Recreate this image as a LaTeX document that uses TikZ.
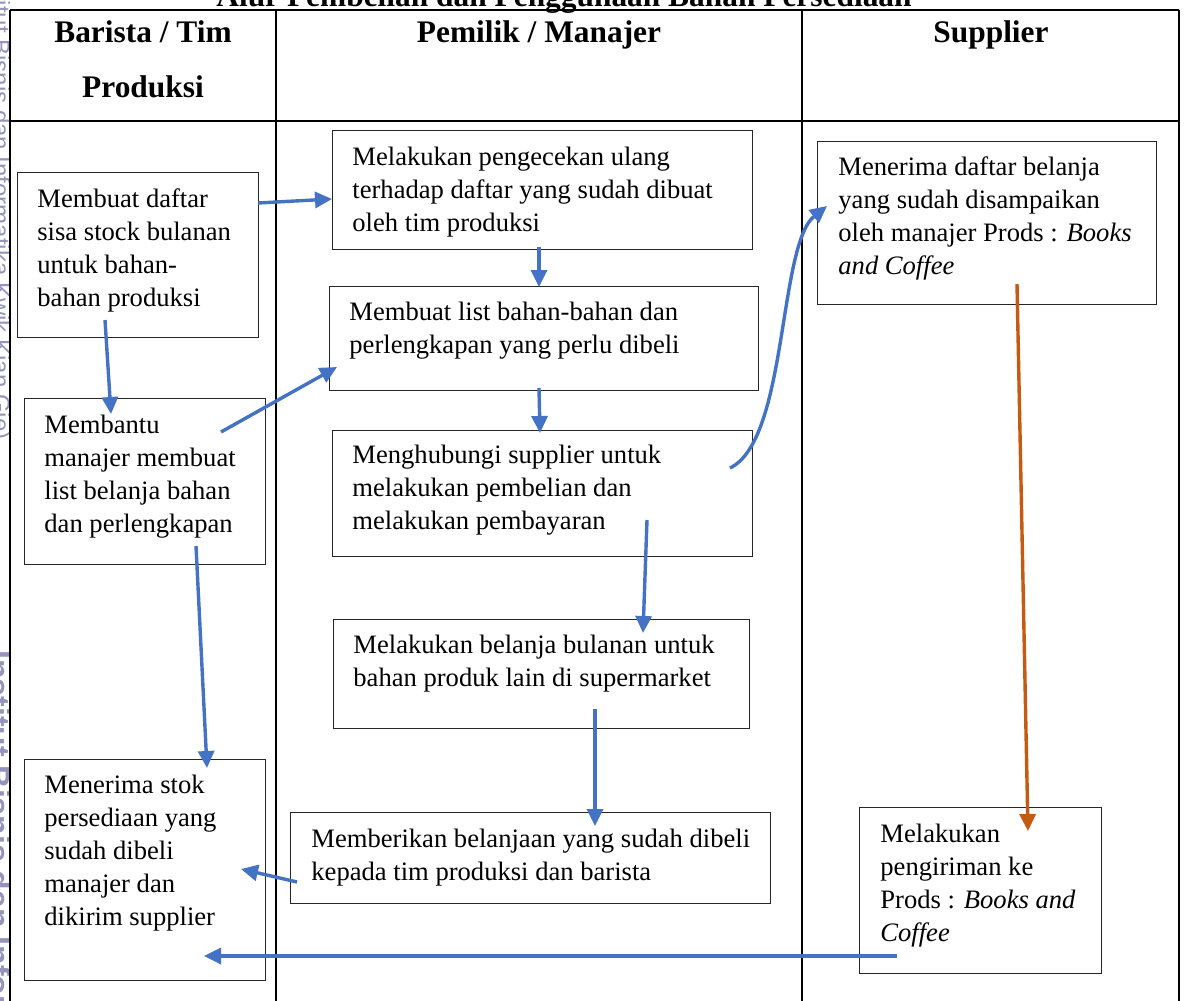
\documentclass[tikz,border=0pt]{standalone}
\usepackage{fontspec}
\setmainfont{Liberation Serif}
\newfontfamily\wmfont{Liberation Sans}
\usetikzlibrary{arrows.meta,calc}
\definecolor{arrowblue}{HTML}{4472C4}
\definecolor{arroworange}{HTML}{C55A11}
\definecolor{wmcol}{HTML}{9494BC}
\newcommand{\bodyfont}{\fontsize{13.3}{16.5}\selectfont}
\newcommand{\hdrfont}{\fontsize{15.7}{18}\selectfont\bfseries}
\newcommand{\boxlines}[1]{\parbox[t]{300pt}{\bodyfont\raggedright #1}}
\begin{document}
\begin{tikzpicture}[x=0.5pt,y=-0.5pt,
  tabline/.style={line width=1.25pt,black},
  procbox/.style={draw=black!85,line width=0.6pt,inner sep=0,anchor=north west},
  boxtxt/.style={anchor=base west,inner sep=0},
  hdr/.style={anchor=base,inner sep=0,font=\hdrfont},
  arr/.style={draw=arrowblue,line width=1.7pt,-{Triangle[length=8.5pt,width=8pt]}},
  arro/.style={draw=arroworange,line width=1.7pt,-{Triangle[length=8.5pt,width=8pt]}},
  wm/.style={inner sep=0,rotate=-90,text=wmcol}]
\useasboundingbox (0,0) rectangle (1184,1001);
% watermark
\node[wm,anchor=base east,font=\wmfont\fontsize{12}{14}\selectfont] (wm1) at (-7,440) {Hak cipta milik IBI KKG (Institut Bisnis dan Informatika Kwik Kian Gie)};
\node[wm,anchor=base west,font=\wmfont\fontsize{16}{18}\selectfont\bfseries] (wm2) at (-12,650) {Institut Bisnis dan Informatika Kwik Kian Gie};
% title
\node[hdr] (title) at (564,6) {Alur Pembelian dan Penggunaan Bahan Persediaan};
% table
\draw[tabline] (10,10) -- (1179,10);
\draw[tabline] (10,121) -- (1179,121);
\draw[tabline] (10,10) -- (10,1010);
\draw[tabline] (276,10) -- (276,1010);
\draw[tabline] (802,10) -- (802,1010);
\draw[tabline] (1179,10) -- (1179,1010);
\node[hdr] (h1a) at (143,42) {Barista / Tim};
\node[hdr] (h1b) at (143,97) {Produksi};
\node[hdr] (h2) at (539,42) {Pemilik / Manajer};
\node[hdr] (h3) at (991,42) {Supplier};
% boxes
\node[procbox,minimum width=120.5pt,minimum height=82.5pt] (B1) at (17,172) {};
\node[procbox,minimum width=120.5pt,minimum height=83pt] (B2) at (24,398) {};
\node[procbox,minimum width=120.5pt,minimum height=110.5pt] (B3) at (24,759) {};
\node[procbox,minimum width=210pt,minimum height=59.5pt] (M1) at (332,130) {};
\node[procbox,minimum width=214.5pt,minimum height=52pt] (M2) at (329,286) {};
\node[procbox,minimum width=210pt,minimum height=63pt] (M3) at (332,430) {};
\node[procbox,minimum width=208pt,minimum height=54.5pt] (M4) at (333,619) {};
\node[procbox,minimum width=240pt,minimum height=45.5pt] (M5) at (290,812) {};
\node[procbox,minimum width=169.5pt,minimum height=81.5pt] (S1) at (817,141) {};
\node[procbox,minimum width=121pt,minimum height=83pt] (S2) at (859,807) {};
% texts
\node[boxtxt] (tB1) at ($(B1.north west)+(20,35)$) {\boxlines{Membuat daftar\\sisa stock bulanan\\untuk bahan-\\bahan produksi}};
\node[boxtxt] (tB2) at ($(B2.north west)+(20,35)$) {\boxlines{Membantu\\manajer membuat\\list belanja bahan\\dan perlengkapan}};
\node[boxtxt] (tB3) at ($(B3.north west)+(20,34)$) {\boxlines{Menerima stok\\persediaan yang\\sudah dibeli\\manajer dan\\dikirim supplier}};
\node[boxtxt] (tM1) at ($(M1.north west)+(20,35)$) {\boxlines{Melakukan pengecekan ulang\\terhadap daftar yang sudah dibuat\\oleh tim produksi}};
\node[boxtxt] (tM2) at ($(M2.north west)+(20,34)$) {\boxlines{Membuat list bahan-bahan dan\\perlengkapan yang perlu dibeli}};
\node[boxtxt] (tM3) at ($(M3.north west)+(20,33)$) {\boxlines{Menghubungi supplier untuk\\melakukan pembelian dan\\melakukan pembayaran}};
\node[boxtxt] (tM4) at ($(M4.north west)+(20,34)$) {\boxlines{Melakukan belanja bulanan untuk\\bahan produk lain di supermarket}};
\node[boxtxt] (tM5) at ($(M5.north west)+(21,35)$) {\boxlines{Memberikan belanjaan yang sudah dibeli\\kepada tim produksi dan barista}};
\node[boxtxt] (tS1) at ($(S1.north west)+(21,34)$) {\boxlines{Menerima daftar belanja\\yang sudah disampaikan\\oleh manajer Prods : \textit{Books}\\\textit{and Coffee}}};
\node[boxtxt] (tS2) at ($(S2.north west)+(21,35)$) {\boxlines{Melakukan\\pengiriman ke\\Prods : \textit{Books and}\\\textit{Coffee}}};
% connector end points
\coordinate (B1toM1s) at (258,203);  \coordinate (B1toM1e) at (332,199);
\coordinate (B1toB2s) at (105,320);  \coordinate (B1toB2e) at (111,414);
\coordinate (B2toM2s) at (221,432);  \coordinate (B2toM2e) at (337,367);
\coordinate (B2toB3s) at (196,546);  \coordinate (B2toB3e) at (207,768);
\coordinate (M1toM2s) at (539,247);  \coordinate (M1toM2e) at (539,287);
\coordinate (M2toM3s) at (539,388);  \coordinate (M2toM3e) at (540,433);
\coordinate (M3toM4s) at (647,520);  \coordinate (M3toM4e) at (643,633);
\coordinate (M4toM5s) at (595,709);  \coordinate (M4toM5e) at (595,826);
\coordinate (M5toB3s) at (297,882);  \coordinate (M5toB3e) at (241,869);
\coordinate (M3toS1s) at (730,468);  \coordinate (M3toS1e) at (827,206);
\coordinate (S1toS2s) at (1017,284); \coordinate (S1toS2e) at (1028,831);
\coordinate (S2toB3s) at (897,956);  \coordinate (S2toB3e) at (204,956);
% connectors
\draw[arr] (B1toM1s) -- (B1toM1e);
\draw[arr] (B1toB2s) -- (B1toB2e);
\draw[arr] (B2toM2s) -- (B2toM2e);
\draw[arr] (B2toB3s) -- (B2toB3e);
\draw[arr] (M1toM2s) -- (M1toM2e);
\draw[arr] (M2toM3s) -- (M2toM3e);
\draw[arr] (M3toM4s) -- (M3toM4e);
\draw[arr] (M4toM5s) -- (M4toM5e);
\draw[arr] (M5toB3s) -- (M5toB3e);
\draw[arr] (M3toS1s) .. controls (788,440) and (778,245) .. (M3toS1e);
\draw[arro] (S1toS2s) -- (S1toS2e);
\draw[arr] (S2toB3s) -- (S2toB3e);
\end{tikzpicture}
\end{document}
